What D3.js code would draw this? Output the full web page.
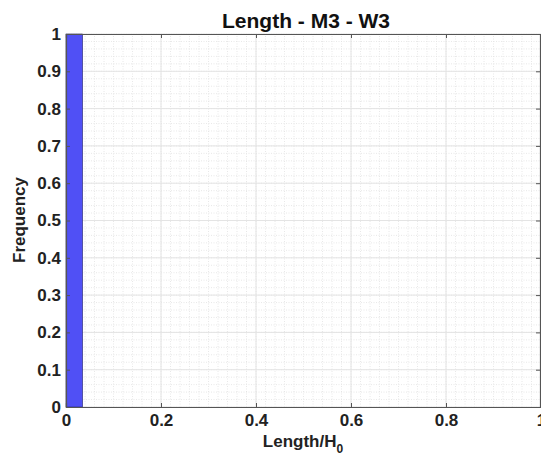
<!DOCTYPE html>
<html><head><meta charset="utf-8">
<script src="https://cdn.jsdelivr.net/npm/d3@7"></script>
<style>
html,body{margin:0;padding:0;background:#fff;}
svg{display:block;font-family:"Liberation Sans",Arial,sans-serif;font-weight:bold;}
</style></head>
<body>
<script>
const binEdges = [0, 0.035];
const frequencies = [1];
const xTicks = [0, 0.2, 0.4, 0.6, 0.8, 1];
const yTicks = [0, 0.1, 0.2, 0.3, 0.4, 0.5, 0.6, 0.7, 0.8, 0.9, 1];
const title = "Length - M3 - W3";

const W = 541, H = 456;
const m = {left: 66, right: 0, top: 34, bottom: 49};
const svg = d3.select("body").append("svg").attr("width", W).attr("height", H);
const x = d3.scaleLinear().domain([0, 1]).range([m.left, W - m.right]);
const y = d3.scaleLinear().domain([0, 1]).range([H - m.bottom, m.top]);

const g = svg.append("g");
// minor grid
const minor = d3.range(0, 1.0001, 0.02);
g.selectAll(".mx").data(minor).enter().append("line")
  .attr("x1", d => x(d)).attr("x2", d => x(d)).attr("y1", y(0)).attr("y2", y(1))
  .attr("stroke", "#e2e2e2").attr("stroke-width", 0.8).attr("stroke-dasharray", "1,1.5");
g.selectAll(".my").data(minor).enter().append("line")
  .attr("y1", d => y(d)).attr("y2", d => y(d)).attr("x1", x(0)).attr("x2", x(1))
  .attr("stroke", "#e2e2e2").attr("stroke-width", 0.8).attr("stroke-dasharray", "1,1.5");
// major grid
g.selectAll(".gx").data(xTicks).enter().append("line")
  .attr("x1", d => x(d)).attr("x2", d => x(d)).attr("y1", y(0)).attr("y2", y(1))
  .attr("stroke", "#e4e4e4").attr("stroke-width", 1);
g.selectAll(".gy").data(yTicks).enter().append("line")
  .attr("y1", d => y(d)).attr("y2", d => y(d)).attr("x1", x(0)).attr("x2", x(1))
  .attr("stroke", "#e4e4e4").attr("stroke-width", 1);

// bars
svg.selectAll(".bar").data(frequencies).enter().append("rect")
  .attr("x", (d, i) => x(binEdges[i]))
  .attr("width", (d, i) => x(binEdges[i + 1]) - x(binEdges[i]))
  .attr("y", d => y(d))
  .attr("height", d => y(0) - y(d))
  .attr("fill", "#5050f5").attr("stroke", "#2a2a6a").attr("stroke-width", 0.6);

// axes
const ax = svg.append("g").attr("transform", `translate(0,${y(0)})`)
  .call(d3.axisBottom(x).tickValues(xTicks).tickFormat(d3.format("~g")).tickSize(-4).tickPadding(7));
const axTop = svg.append("g").attr("transform", `translate(0,${y(1)})`)
  .call(d3.axisTop(x).tickValues(xTicks).tickFormat("").tickSize(-4));
const ay = svg.append("g").attr("transform", `translate(${x(0)},0)`)
  .call(d3.axisLeft(y).tickValues(yTicks).tickFormat(d3.format("~g")).tickSize(-4).tickPadding(5));
const ayR = svg.append("g").attr("transform", `translate(${W - 1},0)`)
  .call(d3.axisRight(y).tickValues(yTicks).tickFormat("").tickSize(-4));
[ax, axTop, ay, ayR].forEach(a => {
  a.selectAll("path").attr("stroke", "#555").attr("stroke-width", 1.2);
  a.selectAll("line").attr("stroke", "#555");
  a.selectAll("text").attr("fill", "#222").style("font-size", "17px").style("font-weight", "bold")
    .style("font-family", '"Liberation Sans",Arial,sans-serif');
});

svg.append("text").attr("x", 306).attr("y", 28).attr("text-anchor", "middle")
  .style("font-size", "21px").attr("fill", "#111").text(title);
const xl = svg.append("text").attr("x", 303).attr("y", 447).attr("text-anchor", "middle")
  .style("font-size", "17px").attr("fill", "#222");
xl.append("tspan").text("Length/H");
xl.append("tspan").attr("dy", 6).style("font-size", "12px").text("0");
svg.append("text").attr("transform", "translate(25,220) rotate(-90)").attr("text-anchor", "middle")
  .style("font-size", "17px").attr("fill", "#222").text("Frequency");
</script>
</body></html>
